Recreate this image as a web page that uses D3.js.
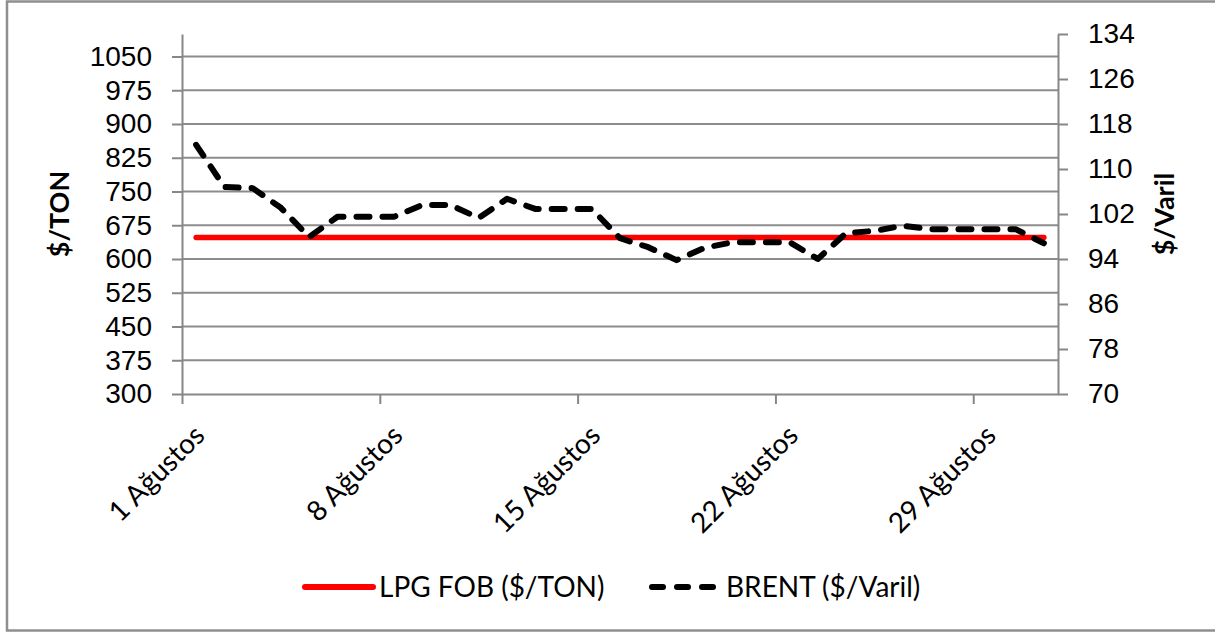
<!DOCTYPE html>
<html lang="tr">

<head>
  <meta charset="UTF-8">
  <title>LPG FOB / BRENT - Ağustos</title>
  <script src="https://d3js.org/d3.v7.min.js"></script>
  <style>
    html,
    body {
      margin: 0;
      background: #fff;
    }

    svg {
      display: block;
      font-family: Lato, "Open Sans", sans-serif;
    }

    .axis path,
    .axis line {
      stroke: #878787;
      stroke-width: 2px;
    }

    .axis text {
      fill: #000;
      font-size: 28px;
    }

    .grid line {
      stroke: #8c8c8c;
      stroke-width: 2px;
    }
  </style>
</head>

<body>
  <svg id="chart" width="1215" height="632"></svg>

  <script>
    // August, one value per day
    const days = d3.range(1, 32);
    const lpgFob = days.map(() => 648);
    const brent = [
      114.3, 106.8, 106.6, 103.1, 97.9, 101.5, 101.5, 101.5, 103.6, 103.6,
      101.3, 104.7, 102.9, 102.9, 102.9, 97.7, 96.1, 93.8, 96.0, 97.0,
      97.0, 97.0, 94.0, 98.6, 99.0, 99.9, 99.3, 99.3, 99.3, 99.3, 96.8
    ];
    const tickDays = [1, 8, 15, 22, 29];
    const leftTicks = d3.range(300, 1051, 75);
    const rightTicks = d3.range(70, 135, 8);
    const seriesNames = ["LPG FOB ($/TON)", "BRENT ($/Varil)"];

    const svg = d3.select("#chart");
    const W = 1215, H = 632;
    const plot = { left: 182, right: 1058, top: 34, bottom: 394 };

    const dayDate = d => new Date(2022, 7, d);
    const midDay = d => new Date(2022, 7, d, 12);

    const x = d3.scaleTime()
      .domain([dayDate(1), new Date(2022, 8, 1)])
      .range([plot.left, plot.right]);
    const yL = d3.scaleLinear().domain([300, 1100]).range([plot.bottom, plot.top]);
    const yR = d3.scaleLinear().domain([70, 134]).range([plot.bottom, plot.top]);

    // chart border
    svg.append("rect")
      .attr("x", 7).attr("y", 1.5)
      .attr("width", W + 10).attr("height", H - 3)
      .attr("fill", "#fff")
      .attr("stroke", "#8f8f8f")
      .attr("stroke-width", 2.5);

    // gridlines from left axis
    svg.append("g")
      .attr("class", "grid")
      .selectAll("line")
      .data(leftTicks.slice(1))
      .enter().append("line")
      .attr("x1", plot.left).attr("x2", plot.right)
      .attr("y1", d => yL(d)).attr("y2", d => yL(d));

    svg.append("g")
      .attr("class", "axis")
      .attr("transform", `translate(${plot.left},0)`)
      .call(d3.axisLeft(yL).tickValues(leftTicks).tickFormat(d3.format("d"))
        .tickSize(10).tickPadding(20).tickSizeOuter(0));

    svg.append("g")
      .attr("class", "axis")
      .attr("transform", `translate(${plot.right},0)`)
      .call(d3.axisRight(yR).tickValues(rightTicks).tickFormat(d3.format("d"))
        .tickSize(10).tickPadding(20).tickSizeOuter(0));

    svg.append("g")
      .attr("class", "axis")
      .attr("transform", `translate(0,${plot.bottom})`)
      .call(d3.axisBottom(x).tickValues(tickDays.map(dayDate)).tickSize(10).tickSizeOuter(0).tickFormat(""));

    // rotated date labels, sitting under the day centre
    svg.append("g")
      .selectAll("text")
      .data(tickDays)
      .enter().append("text")
      .attr("transform", d => `translate(${x(midDay(d)) - 4},${plot.bottom + 29}) rotate(-45)`)
      .attr("text-anchor", "end")
      .attr("dy", "0.72em")
      .style("font-size", "28px")
      .text(d => `${d} Ağustos`);

    // axis titles
    svg.append("text")
      .attr("transform", `translate(60,${(plot.top + plot.bottom) / 2}) rotate(-90)`)
      .attr("text-anchor", "middle")
      .attr("dy", "0.35em")
      .style("font-size", "27px")
      .style("font-weight", "bold")
      .text("$/TON");

    svg.append("text")
      .attr("transform", `translate(1165,${(plot.top + plot.bottom) / 2}) rotate(-90)`)
      .attr("text-anchor", "middle")
      .attr("dy", "0.35em")
      .style("font-size", "27px")
      .style("font-weight", "bold")
      .text("$/Varil");

    const lineL = d3.line()
      .x((d, i) => x(midDay(days[i])))
      .y(d => yL(d));
    const lineR = d3.line()
      .x((d, i) => x(midDay(days[i])))
      .y(d => yR(d));

    svg.append("path")
      .datum(lpgFob)
      .attr("d", lineL)
      .attr("fill", "none")
      .attr("stroke", "#ff0000")
      .attr("stroke-width", 5.5)
      .attr("stroke-linecap", "round");

    svg.append("path")
      .datum(brent)
      .attr("d", lineR)
      .attr("fill", "none")
      .attr("stroke", "#000")
      .attr("stroke-width", 6)
      .attr("stroke-linecap", "round")
      .attr("stroke-linejoin", "round")
      .attr("stroke-dasharray", "13,13");

    // legend
    const legend = svg.append("g").attr("transform", "translate(0,587)");
    const legendItems = [
      { name: seriesNames[0], x: 305, color: "#ff0000", dash: null },
      { name: seriesNames[1], x: 652, color: "#000", dash: "11,14" }
    ];
    legendItems.forEach(item => {
      legend.append("line")
        .attr("x1", item.x).attr("x2", item.x + 68)
        .attr("y1", 0).attr("y2", 0)
        .attr("stroke", item.color)
        .attr("stroke-width", 6)
        .attr("stroke-linecap", "round")
        .attr("stroke-dasharray", item.dash);
      legend.append("text")
        .attr("x", item.x + 74)
        .attr("dy", "0.36em")
        .style("font-size", "28px")
        .text(item.name);
    });
  </script>
</body>

</html>
